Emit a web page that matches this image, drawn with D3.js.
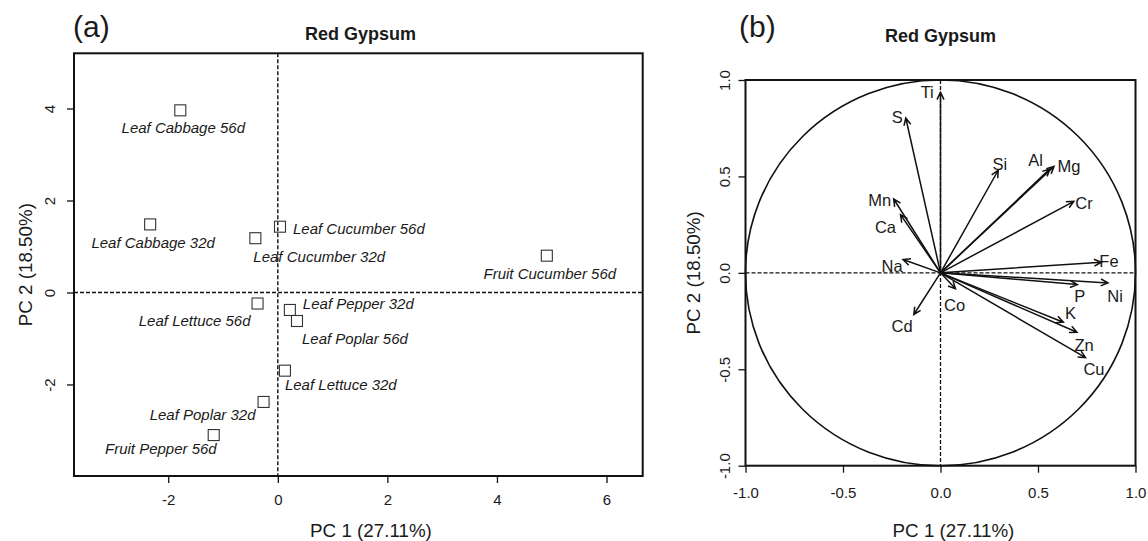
<!DOCTYPE html>
<html>
<head>
<meta charset="utf-8">
<script src="https://cdn.jsdelivr.net/npm/d3@7"></script>
<style>
  body { margin: 0; background: #fff; }
  svg { display: block; }
  text { font-family: "Liberation Sans", Arial, Helvetica, sans-serif; fill: #1a1a1a; }
</style>
</head>
<body>
<svg id="chart" width="1148" height="541"></svg>
<script>
// ---------------- DATA ----------------
// Panel (a): sample scores
const sampleNames = ["Leaf Cabbage 56d", "Leaf Cabbage 32d", "Leaf Cucumber 32d", "Leaf Cucumber 56d",
  "Fruit Cucumber 56d", "Leaf Lettuce 56d", "Leaf Pepper 32d", "Leaf Poplar 56d",
  "Leaf Lettuce 32d", "Leaf Poplar 32d", "Fruit Pepper 56d"];
const samplePC1 = [-1.78, -2.33, -0.41, 0.04, 4.91, -0.37, 0.22, 0.35, 0.13, -0.26, -1.17];
const samplePC2 = [3.96, 1.48, 1.18, 1.43, 0.80, -0.24, -0.38, -0.62, -1.70, -2.38, -3.10];
const scoreXTicks = [-2, 0, 2, 4, 6];
const scoreYTicks = [-2, 0, 2, 4];

// Panel (b): variable loadings
const varNames = ["Ti", "S", "Si", "Al", "Mg", "Cr", "Fe", "Mn", "Ca", "Na", "P", "Ni", "K", "Zn", "Cu", "Co", "Cd"];
const loadPC1 = [0.000, -0.178, 0.296, 0.561, 0.582, 0.684, 0.825, -0.240, -0.205, -0.192, 0.702, 0.859, 0.630, 0.700, 0.744, 0.077, -0.137];
const loadPC2 = [0.936, 0.803, 0.532, 0.539, 0.552, 0.371, 0.055, 0.383, 0.302, 0.069, -0.061, -0.052, -0.256, -0.308, -0.440, -0.083, -0.216];
const loadTicks = [-1.0, -0.5, 0.0, 0.5, 1.0];

const panelTitle = "Red Gypsum";
const xTitle = "PC 1 (27.11%)";
const yTitle = "PC 2 (18.50%)";

// ---------------- LAYOUT (not data) ----------------
// label placement for panel (a): anchor, dx, dy (px)
const sampleLabelPlace = [
  ["middle", 3, 23], ["middle", 3, 24], ["start", -2, 24], ["start", 13, 7],
  ["middle", 3, 23.5], ["end", -7, 22], ["start", 13, -1], ["start", 5, 23],
  ["start", 0, 19], ["end", -8, 18], ["end", 3, 19]
];
// label centre positions for panel (b), in loading units
const varLabelX = [-0.068, -0.222, 0.304, 0.488, 0.659, 0.736, 0.864, -0.312, -0.282, -0.248, 0.714, 0.895, 0.667, 0.736, 0.787, 0.072, -0.197];
const varLabelY = [0.936, 0.808, 0.566, 0.583, 0.552, 0.363, 0.060, 0.375, 0.236, 0.034, -0.121, -0.118, -0.207, -0.372, -0.497, -0.168, -0.277];

const svg = d3.select("#chart");
const hyphen = f => v => f(v).replace("\u2212", "-");

function frame(g, x, y) {
  const [x0, x1] = x.range(), [y0, y1] = y.range();
  g.append("rect").attr("x", x0).attr("y", y1).attr("width", x1 - x0).attr("height", y0 - y1)
    .attr("fill", "none").attr("stroke", "#111").attr("stroke-width", 2);
}

function axes(g, x, y, xTicks, yTicks, fmt, xLabelBase, yLabelBase) {
  const [x0] = x.range(), [y0] = y.range();
  const ax = g.append("g").attr("transform", `translate(0,${y0})`)
    .call(d3.axisBottom(x).tickValues(xTicks).tickSize(7).tickFormat(fmt));
  ax.select(".domain").remove();
  ax.selectAll(".tick line").attr("stroke", "#111").attr("stroke-width", 1.3);
  ax.selectAll(".tick text").attr("y", xLabelBase).attr("dy", 0)
    .attr("font-size", 15).attr("fill", "#1a1a1a")
    .style("font-family", '"Liberation Sans", Arial, sans-serif');
  const ay = g.append("g").attr("transform", `translate(${x0},0)`)
    .call(d3.axisLeft(y).tickValues(yTicks).tickSize(7).tickFormat(fmt));
  ay.select(".domain").remove();
  ay.selectAll(".tick line").attr("stroke", "#111").attr("stroke-width", 1.3);
  ay.selectAll(".tick text").attr("transform", "rotate(-90)").attr("x", 0).attr("y", yLabelBase)
    .attr("dy", 0).attr("text-anchor", "middle")
    .attr("font-size", 15).attr("fill", "#1a1a1a")
    .style("font-family", '"Liberation Sans", Arial, sans-serif');
}

// ---------------- PANEL (a) ----------------
{
  const x = d3.scaleLinear().domain([-3.72, 6.66]).range([74, 642.7]);
  const y = d3.scaleLinear().domain([-3.99, 5.2]).range([476, 53.3]);
  const g = svg.append("g");

  g.append("line").attr("x1", x(0)).attr("x2", x(0)).attr("y1", y.range()[1]).attr("y2", y.range()[0])
    .attr("stroke", "#111").attr("stroke-width", 1.4).attr("stroke-dasharray", "4,2");
  g.append("line").attr("x1", x.range()[0]).attr("x2", x.range()[1]).attr("y1", y(0)).attr("y2", y(0))
    .attr("stroke", "#111").attr("stroke-width", 1.4).attr("stroke-dasharray", "4,2");

  frame(g, x, y);
  axes(g, x, y, scoreXTicks, scoreYTicks, hyphen(d3.format("d")), 29, -19);

  const s = 11;
  g.selectAll("rect.pt").data(sampleNames).join("rect").attr("class", "pt")
    .attr("x", (d, i) => x(samplePC1[i]) - s / 2).attr("y", (d, i) => y(samplePC2[i]) - s / 2)
    .attr("width", s).attr("height", s).attr("fill", "none").attr("stroke", "#333").attr("stroke-width", 1.1);

  g.selectAll("text.lbl").data(sampleNames).join("text").attr("class", "lbl")
    .attr("x", (d, i) => x(samplePC1[i]) + sampleLabelPlace[i][1])
    .attr("y", (d, i) => y(samplePC2[i]) + sampleLabelPlace[i][2])
    .attr("text-anchor", (d, i) => sampleLabelPlace[i][0])
    .attr("font-size", 15).attr("font-style", "italic").text(d => d);

  g.append("text").attr("x", 73).attr("y", 37).attr("font-size", 30).text("(a)");
  g.append("text").attr("x", 360.5).attr("y", 39.5).attr("text-anchor", "middle")
    .attr("font-size", 18).attr("font-weight", "bold").text(panelTitle);
  g.append("text").attr("x", 371).attr("y", 537).attr("text-anchor", "middle")
    .attr("font-size", 18.8).text(xTitle);
  g.append("text").attr("transform", `translate(32,${(53.3 + 476) / 2}) rotate(-90)`)
    .attr("text-anchor", "middle").attr("font-size", 18.8).text(yTitle);
}

// ---------------- PANEL (b) ----------------
{
  const x = d3.scaleLinear().domain([-1, 1]).range([745.5, 1135.5]);
  const y = d3.scaleLinear().domain([-1, 1]).range([465.7, 80]);
  const g = svg.append("g");

  g.append("line").attr("x1", x(0)).attr("x2", x(0)).attr("y1", y(1)).attr("y2", y(-1))
    .attr("stroke", "#111").attr("stroke-width", 1.3).attr("stroke-dasharray", "4,2");
  g.append("line").attr("x1", x(-1)).attr("x2", x(1)).attr("y1", y(0)).attr("y2", y(0))
    .attr("stroke", "#111").attr("stroke-width", 1.3).attr("stroke-dasharray", "4,2");

  g.append("ellipse").attr("cx", x(0)).attr("cy", y(0))
    .attr("rx", x(1) - x(0)).attr("ry", y(0) - y(1))
    .attr("fill", "none").attr("stroke", "#111").attr("stroke-width", 1.6);

  frame(g, x, y);
  axes(g, x, y, loadTicks, loadTicks, hyphen(d3.format(".1f")), 32.6, -16);

  // arrows
  const headLen = 8, headAng = Math.PI / 7;
  varNames.forEach((name, i) => {
    const x0 = x(0), y0 = y(0), x1 = x(loadPC1[i]), y1 = y(loadPC2[i]);
    const a = Math.atan2(y1 - y0, x1 - x0);
    const p = d3.path();
    p.moveTo(x0, y0); p.lineTo(x1, y1);
    p.moveTo(x1 - headLen * Math.cos(a - headAng), y1 - headLen * Math.sin(a - headAng));
    p.lineTo(x1, y1);
    p.lineTo(x1 - headLen * Math.cos(a + headAng), y1 - headLen * Math.sin(a + headAng));
    g.append("path").attr("d", p.toString()).attr("fill", "none")
      .attr("stroke", "#111").attr("stroke-width", 1.5);
  });

  g.selectAll("text.vl").data(varNames).join("text").attr("class", "vl")
    .attr("x", (d, i) => x(varLabelX[i])).attr("y", (d, i) => y(varLabelY[i]))
    .attr("dy", "0.36em").attr("text-anchor", "middle").attr("font-size", 16.5).text(d => d);

  g.append("text").attr("x", 739).attr("y", 37).attr("font-size", 30).text("(b)");
  g.append("text").attr("x", 940.5).attr("y", 42).attr("text-anchor", "middle")
    .attr("font-size", 18).attr("font-weight", "bold").text(panelTitle);
  g.append("text").attr("x", 953.5).attr("y", 537).attr("text-anchor", "middle")
    .attr("font-size", 18.8).text(xTitle);
  g.append("text").attr("transform", `translate(700,${(80 + 465.7) / 2}) rotate(-90)`)
    .attr("text-anchor", "middle").attr("font-size", 18.8).text(yTitle);
}
</script>
</body>
</html>
